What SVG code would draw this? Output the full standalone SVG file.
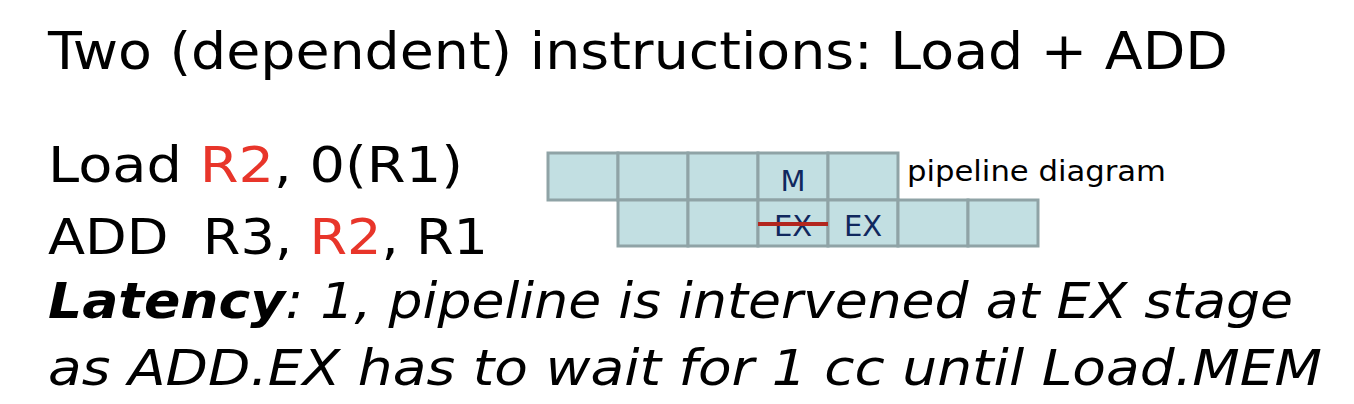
<svg xmlns="http://www.w3.org/2000/svg" width="1354" height="404" viewBox="0 0 1354 404">
<style>
text{font-family:"DejaVu Sans","Verdana",sans-serif;fill:#000}
.big{font-size:50px}
.red{fill:#E8352A}
.cell{fill:#C2DFE2;stroke:#8FA3A6;stroke-width:3}
.lbl{font-size:29px;fill:#10285E;text-anchor:middle}
</style>
<rect width="1354" height="404" fill="#fff"/>
<text x="48" y="69" font-size="52" textLength="1180" lengthAdjust="spacingAndGlyphs">Two (dependent) instructions: Load + ADD</text>
<g id="code">
<text x="48" y="182" class="big" textLength="415" lengthAdjust="spacingAndGlyphs">Load <tspan class="red">R2</tspan>, 0(R1)</text>
<text x="48" y="254" class="big" textLength="440" lengthAdjust="spacingAndGlyphs" xml:space="preserve">ADD  R3, <tspan class="red">R2</tspan>, R1</text>
</g>
<g id="load-row">
<rect class="cell" x="548" y="153" width="70" height="47"/>
<rect class="cell" x="618" y="153" width="70" height="47"/>
<rect class="cell" x="688" y="153" width="70" height="47"/>
<rect class="cell" x="758" y="153" width="70" height="47"/>
<rect class="cell" x="828" y="153" width="70" height="47"/>
<text class="lbl" x="793" y="191">M</text>
</g>
<g id="add-row">
<rect class="cell" x="618" y="200" width="70" height="46"/>
<rect class="cell" x="688" y="200" width="70" height="46"/>
<rect class="cell" x="758" y="200" width="70" height="46"/>
<rect class="cell" x="828" y="200" width="70" height="46"/>
<rect class="cell" x="898" y="200" width="70" height="46"/>
<rect class="cell" x="968" y="200" width="70" height="46"/>
<text class="lbl" x="793" y="236">EX</text>
<text class="lbl" x="863" y="236">EX</text>
</g>
<g id="connectors">
<line x1="758" y1="224" x2="828" y2="224" stroke="#B3261E" stroke-width="4"/>
</g>
<text x="907" y="181" font-size="28" textLength="259" lengthAdjust="spacingAndGlyphs">pipeline diagram</text>
<text x="48" y="318" class="big" font-style="italic" textLength="1245" lengthAdjust="spacingAndGlyphs"><tspan font-weight="bold">Latency</tspan>: 1, pipeline is intervened at EX stage</text>
<text x="48" y="385" class="big" font-style="italic" textLength="1274" lengthAdjust="spacingAndGlyphs">as ADD.EX has to wait for 1 cc until Load.MEM</text>
</svg>
